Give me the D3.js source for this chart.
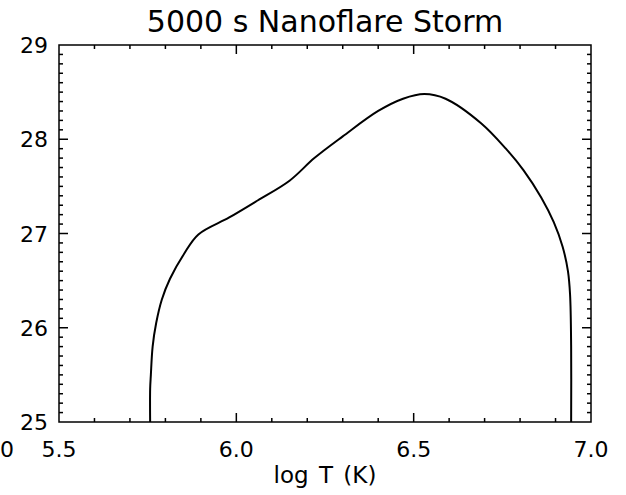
<!DOCTYPE html>
<html>
<head>
<meta charset="utf-8">
<script src="https://cdn.jsdelivr.net/npm/d3@7"></script>
<style>
  body { margin: 0; background: #fff; }
  text { font-family: "DejaVu Sans", sans-serif; fill: #000; }
</style>
</head>
<body>
<div id="chart"></div>
<script>
// log T values and the emission curve
const logT = [5.757, 5.757, 5.759, 5.764, 5.774, 5.790, 5.813, 5.852, 5.893, 5.98, 6.06, 6.15,
  6.22, 6.30, 6.40, 6.47, 6.53, 6.59, 6.69, 6.76, 6.81, 6.86, 6.895, 6.92, 6.935, 6.941, 6.944, 6.944];
const emValues = [25.00, 25.35, 25.50, 25.80, 26.05, 26.30, 26.52, 26.78, 26.99, 27.17, 27.35, 27.56,
  27.80, 28.03, 28.30, 28.43, 28.48, 28.43, 28.17, 27.90, 27.67, 27.38, 27.12, 26.86, 26.60, 26.35, 25.80, 25.00];
const xTicks = [5.5, 6.0, 6.5, 7.0];
const yTicks = [25, 26, 27, 28, 29];

const width = 626, height = 495;
const plotL = 59, plotR = 591, plotT = 45, plotB = 422;

const x = d3.scaleLinear().domain([5.5, 7.0]).range([plotL, plotR]);
const y = d3.scaleLinear().domain([25, 29]).range([plotB, plotT]);

const svg = d3.select("#chart").append("svg")
  .attr("width", width)
  .attr("height", height);

svg.append("rect").attr("width", width).attr("height", height).attr("fill", "#fff");

// minor ticks every 0.1
const xMinor = d3.range(56, 70).map(d => d / 10);
const yMinor = d3.range(251, 290).map(d => d / 10);

const axes = svg.append("g").attr("stroke", "#000").attr("stroke-width", 1.5);

xMinor.forEach(function(v) {
  const big = Math.abs(v * 2 - Math.round(v * 2)) < 1e-6;
  const len = big ? 9 : 4;
  axes.append("line").attr("x1", x(v)).attr("x2", x(v)).attr("y1", plotB).attr("y2", plotB - len);
  axes.append("line").attr("x1", x(v)).attr("x2", x(v)).attr("y1", plotT).attr("y2", plotT + len);
});
yMinor.forEach(function(v) {
  const big = Math.abs(v - Math.round(v)) < 1e-6;
  const len = big ? 9 : 4;
  axes.append("line").attr("y1", y(v)).attr("y2", y(v)).attr("x1", plotL).attr("x2", plotL + len);
  axes.append("line").attr("y1", y(v)).attr("y2", y(v)).attr("x1", plotR).attr("x2", plotR - len);
});

axes.append("rect")
  .attr("x", plotL).attr("y", plotT)
  .attr("width", plotR - plotL).attr("height", plotB - plotT)
  .attr("fill", "none");

svg.selectAll(".xlab")
  .data(xTicks)
  .enter().append("text")
  .attr("class", "xlab")
  .attr("x", d => x(d))
  .attr("y", 457)
  .attr("text-anchor", "middle")
  .style("font-size", "22px")
  .text(d => d.toFixed(1));

svg.selectAll(".ylab")
  .data(yTicks)
  .enter().append("text")
  .attr("class", "ylab")
  .attr("x", 48)
  .attr("y", d => y(d) + 8)
  .attr("text-anchor", "end")
  .style("font-size", "22px")
  .text(d => d);

// leftover label from the neighbouring panel
svg.append("text")
  .attr("x", 0).attr("y", 457)
  .attr("text-anchor", "start")
  .style("font-size", "22px")
  .text("0");

svg.append("text")
  .attr("x", 325).attr("y", 483)
  .attr("text-anchor", "middle")
  .style("font-size", "23px")
  .style("word-spacing", "3px")
  .text("log T (K)");

svg.append("text")
  .attr("x", 325).attr("y", 32)
  .attr("text-anchor", "middle")
  .style("font-size", "30px")
  .text("5000 s Nanoflare Storm");

const pts = logT.map((t, i) => [t, emValues[i]]);
const line = d3.line()
  .x(d => x(d[0]))
  .y(d => y(d[1]))
  .curve(d3.curveCatmullRom.alpha(0.5));

svg.append("path")
  .datum(pts)
  .attr("d", line)
  .attr("fill", "none")
  .attr("stroke", "#000")
  .attr("stroke-width", 2);
</script>
</body>
</html>
